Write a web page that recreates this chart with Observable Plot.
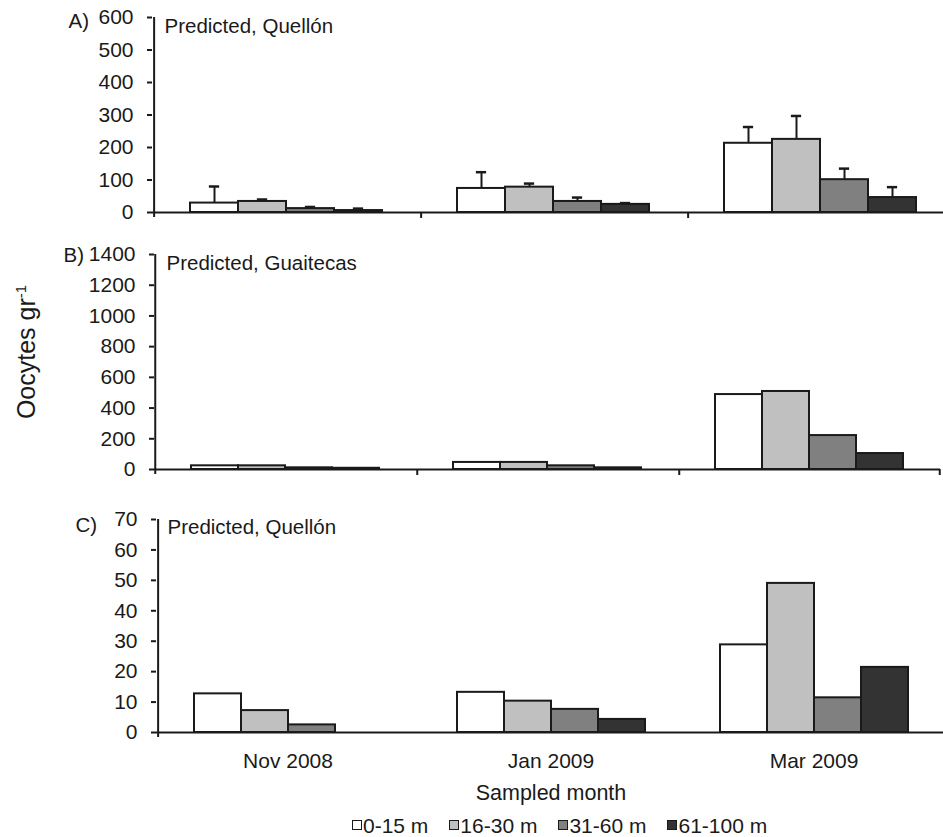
<!DOCTYPE html>
<html>
<head>
<meta charset="utf-8">
<script src="https://cdn.jsdelivr.net/npm/d3@7"></script>
<script src="https://cdn.jsdelivr.net/npm/@observablehq/plot@0.6"></script>
<style>
  body { margin: 0; background: #fff; font-family: "Liberation Sans", Arial, sans-serif; color: #1a1a1a; }
  #wrap { position: relative; width: 943px; height: 837px; overflow: hidden; background: #fff; }
  .panel { position: absolute; left: 0; width: 943px; }
  .panel svg { display: block; overflow: hidden; }
  .panel svg [aria-label="y-axis tick"] { stroke-width: 2px; }
  #ylab { position: absolute; left: 26px; top: 352px; transform: translate(-50%, -50%) rotate(-90deg);
          white-space: nowrap; font-size: 25px; line-height: 1; }
  #ylab sup { font-size: 15px; vertical-align: 9px; }
  #legend { position: absolute; top: 816px; left: 352px; display: flex; align-items: center; font-size: 21px; line-height: 20px; height: 20px; white-space: nowrap; }
  #legend .item { display: flex; align-items: center; margin-right: 21px; }
  #legend .sw { width: 8px; height: 8px; border: 1.5px solid #1a1a1a; margin-right: 1px; margin-top: -2px; }
</style>
</head>
<body>
<div id="wrap">
  <div id="pA" class="panel" style="top:0px"></div>
  <div id="pB" class="panel" style="top:236px"></div>
  <div id="pC" class="panel" style="top:482px"></div>
  <div id="ylab">Oocytes gr<sup>-1</sup></div>
  <div id="legend"></div>
</div>
<script>
// ---- data ----
const months = ["Nov 2008", "Jan 2009", "Mar 2009"];
const depths = ["0-15 m", "16-30 m", "31-60 m", "61-100 m"];
const depthFills = ["#ffffff", "#c0c0c0", "#808080", "#333333"];

// Panel A: Predicted, Quellón (rows = months, cols = depths)
const quellonA = [[29, 34, 12, 6], [74, 78, 34, 25], [213, 225, 101, 46]];
const quellonAErr = [[51, 6, 5, 6], [50, 11, 12, 4], [50, 72, 34, 32]];
const ticksA = [0, 100, 200, 300, 400, 500, 600];

// Panel B: Predicted, Guaitecas
const guaitecasB = [[24, 24, 11, 8], [46, 46, 24, 11], [488, 508, 221, 104]];
const ticksB = [0, 200, 400, 600, 800, 1000, 1200, 1400];

// Panel C: Predicted, Quellón
const quellonC = [[12.7, 7.2, 2.5, 0], [13.2, 10.3, 7.6, 4.3], [28.8, 49, 11.4, 21.4]];
const ticksC = [0, 10, 20, 30, 40, 50, 60, 70];

const ink = "#1a1a1a";
const font = '"Liberation Sans", Arial, sans-serif';

function panel(cfg) {
  const data = [];
  months.forEach((m, i) => depths.forEach((d, j) => data.push({
    month: m, depth: d, value: cfg.values[i][j], err: cfg.errs ? cfg.errs[i][j] : 0
  })));
  const width = 943;
  const marginRight = width - cfg.frameRight;
  const band = (cfg.frameRight - cfg.marginLeft) / months.length;
  const gap = cfg.gap;
  const step = (band - 2 * gap) / depths.length;
  const edge = step / 2 + gap;
  const frameH = cfg.height - cfg.marginTop - cfg.marginBottom;

  const marks = [
    Plot.barY(data, {fx: "month", x: "depth", y: "value", fill: "depth", stroke: ink, strokeWidth: 2}),
    Plot.ruleY([0], {stroke: ink, strokeWidth: 2}),
    Plot.ruleX([depths[0]], {fx: [months[0]], dx: -edge, insetBottom: -5, stroke: ink, strokeWidth: 2}),
    Plot.text([cfg.title], {fx: [months[0]], frameAnchor: "top-left", dx: cfg.titleDx, dy: cfg.titleDy,
      textAnchor: "start", lineAnchor: "middle", fontSize: 20.5, fill: ink}),
    Plot.text([cfg.letter], {fx: [months[0]], frameAnchor: "top-left", dx: cfg.letterDx, dy: cfg.letterDy,
      textAnchor: "start", lineAnchor: "middle", fontSize: 20.5, fill: ink})
  ];
  if (cfg.errs) {
    marks.push(
      Plot.ruleX(data, {fx: "month", x: "depth", y1: "value", y2: d => d.value + d.err, stroke: ink, strokeWidth: 2}),
      Plot.tickY(data, {fx: "month", x: "depth", y: d => d.value + d.err, insetLeft: (step - 11) / 2,
        insetRight: (step - 11) / 2, stroke: ink, strokeWidth: 2.5})
    );
  }
  if (cfg.boundaryTicks) {
    marks.push(
      Plot.ruleX(months.slice(1).map(() => depths[0]), {fx: months.slice(1), dx: -edge,
        insetTop: frameH, insetBottom: -6, stroke: ink, strokeWidth: 2}),
      Plot.ruleX([depths[depths.length - 1]], {fx: [months[months.length - 1]], dx: edge,
        insetTop: frameH, insetBottom: -6, stroke: ink, strokeWidth: 2})
    );
  }
  if (cfg.xTitle) {
    marks.push(Plot.text([cfg.xTitle], {fx: [months[1]], frameAnchor: "bottom", dy: cfg.xTitleDy,
      lineAnchor: "middle", fontSize: 21.5, fill: ink}));
  }
  return Plot.plot({
    width,
    height: cfg.height,
    marginLeft: cfg.marginLeft,
    marginRight,
    marginTop: cfg.marginTop,
    marginBottom: cfg.marginBottom,
    style: {fontSize: "21px", fontFamily: font, color: ink, background: "transparent"},
    fx: cfg.monthAxis
      ? {domain: months, padding: 0, axis: "bottom", tickSize: 0, tickPadding: 21, label: null, fontSize: 21.5}
      : {domain: months, padding: 0, axis: null},
    x: {domain: depths, axis: null, paddingInner: 0, paddingOuter: gap / step},
    y: {domain: [0, cfg.yMax], ticks: cfg.ticks, tickSize: 5, tickPadding: 14, label: null, tickFormat: d => String(d)},
    color: {domain: depths, range: depthFills},
    marks
  });
}

document.getElementById("pA").append(panel({
  values: quellonA, errs: quellonAErr, yMax: 600, ticks: ticksA,
  letter: "A)", title: "Predicted, Quellón",
  marginLeft: 152, frameRight: 953, gap: 36,
  height: 236, marginTop: 17, marginBottom: 24,
  titleDx: 12, titleDy: 9, letterDx: -84, letterDy: 4,
  boundaryTicks: true
}));

document.getElementById("pB").append(panel({
  values: guaitecasB, yMax: 1400, ticks: ticksB,
  letter: "B)", title: "Predicted, Guaitecas",
  marginLeft: 154, frameRight: 940, gap: 36,
  height: 246, marginTop: 18, marginBottom: 13,
  titleDx: 12, titleDy: 9, letterDx: -91, letterDy: 1,
  boundaryTicks: true
}));

document.getElementById("pC").append(panel({
  values: quellonC, yMax: 70, ticks: ticksC,
  letter: "C)", title: "Predicted, Quellón",
  marginLeft: 156, frameRight: 945, gap: 36,
  height: 325, marginTop: 37, marginBottom: 75,
  titleDx: 11, titleDy: 8, letterDx: -81, letterDy: 6,
  monthAxis: true, xTitle: "Sampled month", xTitleDy: 61
}));

// legend
const legend = document.getElementById("legend");
depths.forEach((d, i) => {
  const item = document.createElement("div");
  item.className = "item";
  const sw = document.createElement("span");
  sw.className = "sw";
  sw.style.background = depthFills[i];
  const t = document.createElement("span");
  t.textContent = d;
  item.append(sw, t);
  legend.append(item);
});
</script>
</body>
</html>
